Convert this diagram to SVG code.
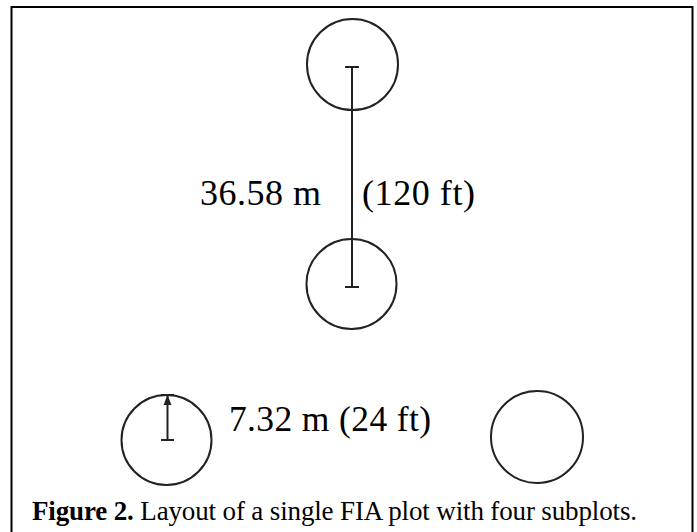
<svg xmlns="http://www.w3.org/2000/svg" width="697" height="532" viewBox="0 0 697 532">
<defs>
<style>
.c{fill:none;stroke:#222;stroke-width:2}
.l{stroke:#222;stroke-width:2;fill:none}
.t{font-family:"Liberation Serif","Times New Roman",serif;fill:#000}
</style>
<marker id="ah" viewBox="0 0 10 10" refX="9" refY="5" markerWidth="5" markerHeight="5" orient="auto"><path d="M0,1 L10,5 L0,9 z" fill="#222"/></marker>
</defs>
<rect x="0" y="0" width="697" height="532" fill="#fff"/>
<path d="M11.5,540 V7 H692.5 V540" fill="none" stroke="#000" stroke-width="2"/>
<g id="subplot1"><circle class="c" cx="352.5" cy="64.5" r="45.5"/></g>
<g id="subplot2"><circle class="c" cx="351.5" cy="284" r="45"/></g>
<g id="subplot3"><circle class="c" cx="166.5" cy="440" r="45"/></g>
<g id="subplot4"><circle class="c" cx="537" cy="437" r="46"/></g>
<g id="connectors">
<line class="l" x1="352" y1="67" x2="352" y2="287"/>
<line class="l" x1="345" y1="67" x2="359" y2="67"/>
<line class="l" x1="345" y1="287" x2="359" y2="287"/>
<line class="l" x1="167.5" y1="440" x2="167.5" y2="396" marker-end="url(#ah)"/>
<line class="l" x1="161" y1="395" x2="174" y2="395"/>
<line class="l" x1="161" y1="440" x2="174" y2="440"/>
</g>
<g id="labels">
<text class="t" x="200" y="205" font-size="36" textLength="121" lengthAdjust="spacing">36.58 m</text>
<text class="t" x="362" y="205" font-size="36" textLength="113" lengthAdjust="spacing">(120 ft)</text>
<text class="t" x="229" y="431" font-size="35.5" textLength="202" lengthAdjust="spacing">7.32 m (24 ft)</text>
<text class="t" x="32" y="520" font-size="27" textLength="605" lengthAdjust="spacing"><tspan font-weight="bold">Figure 2.</tspan> Layout of a single FIA plot with four subplots.</text>
</g>
</svg>
